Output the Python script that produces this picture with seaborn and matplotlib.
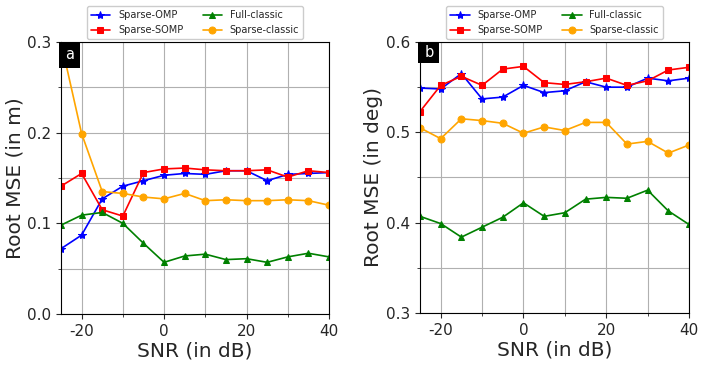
import matplotlib
matplotlib.use('Agg')
import matplotlib.pyplot as plt
import numpy as np
import pandas as pd
import seaborn as sns
from matplotlib.ticker import MultipleLocator
from matplotlib.patches import Rectangle

snr = [-25, -20, -15, -10, -5, 0, 5, 10, 15, 20, 25, 30, 35, 40]

# panel a : root MSE in metres
omp_m = [0.072, 0.087, 0.127, 0.141, 0.147, 0.153, 0.155, 0.154, 0.158, 0.158, 0.147, 0.154, 0.155, 0.156]
somp_m = [0.141, 0.155, 0.115, 0.108, 0.156, 0.160, 0.161, 0.159, 0.158, 0.158, 0.159, 0.151, 0.158, 0.156]
full_m = [0.098, 0.109, 0.112, 0.100, 0.078, 0.057, 0.064, 0.066, 0.060, 0.061, 0.057, 0.063, 0.067, 0.063]
classic_m = [0.300, 0.199, 0.135, 0.133, 0.129, 0.127, 0.133, 0.125, 0.126, 0.125, 0.125, 0.126, 0.125, 0.120]

# panel b : root MSE in degrees
omp_d = [0.549, 0.548, 0.565, 0.537, 0.539, 0.552, 0.544, 0.546, 0.556, 0.550, 0.550, 0.560, 0.557, 0.560]
somp_d = [0.523, 0.552, 0.562, 0.552, 0.570, 0.573, 0.555, 0.553, 0.556, 0.560, 0.552, 0.557, 0.569, 0.572]
full_d = [0.407, 0.399, 0.384, 0.395, 0.406, 0.422, 0.407, 0.411, 0.426, 0.428, 0.427, 0.436, 0.413, 0.398]
classic_d = [0.505, 0.493, 0.515, 0.513, 0.510, 0.499, 0.506, 0.502, 0.511, 0.511, 0.487, 0.490, 0.477, 0.486]

names = ['Sparse-OMP', 'Sparse-SOMP', 'Full-classic', 'Sparse-classic']
colors = ['blue', 'red', 'green', 'orange']
markers = ['*', 's', '^', 'o']
msizes = [6, 4.8, 5, 5]

sns.set_style('ticks')
plt.rcParams['font.family'] = ['DejaVu Sans']
plt.rcParams['axes.unicode_minus'] = False

fig = plt.figure(figsize=(7.02, 3.66), dpi=100)
ax1 = fig.add_axes([61/702, 1-314/366, 268/702, 272/366])
ax2 = fig.add_axes([420/702, 1-313/366, 269/702, 271/366])

def panel(ax, series, ylim, ylabel, tag, box_h):
    for vals, name, c, m, ms in zip(series, names, colors, markers, msizes):
        df = pd.DataFrame({'snr': snr, 'rmse': vals})
        sns.lineplot(data=df, x='snr', y='rmse', ax=ax, color=c, marker=m,
                     markersize=ms, markeredgecolor=c, linewidth=1.2, label=name)
    ax.set_xlim(-25, 40)
    ax.set_ylim(*ylim)
    ax.xaxis.set_major_locator(MultipleLocator(20))
    ax.xaxis.set_minor_locator(MultipleLocator(10))
    ax.yaxis.set_major_locator(MultipleLocator(0.1))
    ax.yaxis.set_minor_locator(MultipleLocator(0.05))
    ax.grid(True, which='both', color='#b0b0b0', linewidth=0.8)
    ax.tick_params(labelsize=11)
    ax.set_xlabel('SNR (in dB)', fontsize=14.5, labelpad=2)
    ax.set_ylabel(ylabel, fontsize=14.5, labelpad=2)
    for s in ax.spines.values():
        s.set_color('black')
    # black tag box in the upper-left corner
    w = 21 / 268
    ax.add_patch(Rectangle((-0.006, 1 - box_h), w, box_h, transform=ax.transAxes,
                           facecolor='black', edgecolor='none', zorder=10, clip_on=False))
    ax.text(-0.006 + w / 2, 1 - box_h / 2, tag, transform=ax.transAxes, color='white',
            fontsize=10.5, ha='center', va='center', zorder=11)
    ax.legend(loc='lower center', bbox_to_anchor=(0.5, 1.0), ncol=2, fontsize=7,
              borderaxespad=0.3, framealpha=1)

panel(ax1, [omp_m, somp_m, full_m, classic_m], (0, 0.3), 'Root MSE (in m)', 'a', 26 / 272)
panel(ax2, [omp_d, somp_d, full_d, classic_d], (0.3, 0.6), 'Root MSE (in deg)', 'b', 21 / 271)

fig.savefig('out.png', dpi=100)
